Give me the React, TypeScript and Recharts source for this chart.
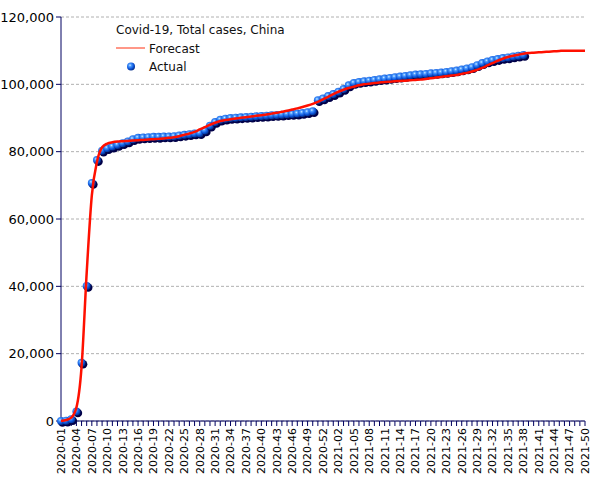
import React from "react";
import {
  CartesianGrid,
  Line,
  LineChart,
  XAxis,
  YAxis,
} from "recharts";

// ISO weeks: 2020 has 53, chart runs to 2021-50
const WEEKS: string[] = [];
for (let w = 1; w <= 53; w++) WEEKS.push(`2020-${String(w).padStart(2, "0")}`);
for (let w = 1; w <= 50; w++) WEEKS.push(`2021-${String(w).padStart(2, "0")}`);

const ACTUAL = [
  0, 100, 500, 2800, 17300, 40100, 70700, 77500, 80300, 81000,
  81500, 82000, 82500, 83000, 83700, 84100, 84200, 84300, 84400, 84400,
  84500, 84500, 84600, 84800, 85000, 85200, 85400, 85500, 86300, 87700,
  88800, 89500, 89800, 90000, 90100, 90200, 90300, 90400, 90500, 90600,
  90700, 90800, 90900, 91000, 91100, 91200, 91300, 91500, 91700, 92000,
  95300, 95800, 96500, 97100, 97800, 98600, 99700, 100400, 100700, 100900,
  101100, 101300, 101500, 101700, 101900, 102100, 102300, 102500, 102700, 102900,
  103000, 103100, 103300, 103400, 103500, 103700, 103900, 104100, 104400, 104700,
  105100, 105700, 106300, 106800, 107200, 107500, 107800, 108000, 108300, 108500,
  108700,
];

const FORECAST = [
  0, 300, 1000, 4000, 16000, 44000, 67000, 77000, 81300, 82400,
  82800, 83000, 83100, 83200, 83300, 83400, 83500, 83600, 83700, 83800,
  83900, 84100, 84300, 84600, 85000, 85400, 85900, 86600, 87300, 88000,
  88600, 89100, 89400, 89650, 89850, 90050, 90250, 90450, 90650, 90850,
  91050, 91300, 91550, 91850, 92150, 92500, 92850, 93250, 93700, 94200,
  94800, 95500, 96300, 97100, 97800, 98400, 98900, 99300, 99700, 100000,
  100200, 100400, 100550, 100700, 100800, 100900, 101000, 101100, 101200, 101300,
  101400, 101600, 101800, 102000, 102200, 102400, 102600, 102800, 103100, 103400,
  103800, 104300, 104900, 105600, 106300, 107000, 107600, 108100, 108500, 108800,
  109100, 109300, 109400, 109500, 109600, 109700, 109800, 109900, 110000, 110000,
  110000, 110000, 110000,
];

const Y_TICKS = [0, 20000, 40000, 60000, 80000, 100000, 120000];

const data = WEEKS.map((week, i) => ({
  week,
  actual: i < ACTUAL.length ? ACTUAL[i] : null,
  forecast: FORECAST[i],
}));

const FONT = "'DejaVu Sans', sans-serif";
const AXIS = "#000060";

function XTick(props: any) {
  const { x, y, payload } = props;
  const idx = WEEKS.indexOf(payload.value);
  if (idx % 3 !== 0) return <g />;
  return (
    <text
      transform={`translate(${x},${y}) rotate(-90)`}
      textAnchor="end"
      dy="0.35em"
      fontSize={11}
      fontFamily={FONT}
      fill="#000"
    >
      {payload.value}
    </text>
  );
}

function Sphere({ cx, cy }: { cx: number; cy: number }) {
  return (
    <g>
      <circle cx={cx + 1.5} cy={cy + 1.5} r={4.3} fill="#000048" />
      <circle cx={cx} cy={cy} r={4} fill="url(#sphereGrad)" />
    </g>
  );
}

function ActualDot(props: any) {
  const { cx, cy, index, payload } = props;
  if (cy == null || payload?.actual == null) return <g key={index} />;
  return (
    <g key={index}>
      <Sphere cx={cx} cy={cy} />
    </g>
  );
}

export default function App() {
  return (
    <div style={{ position: "absolute", left: 0, top: 0, width: 605, height: 480 }}>
      <LineChart
        width={605}
        height={480}
        data={data}
        margin={{ top: 17, right: 20, bottom: 0, left: 0 }}
      >
        <defs>
          <radialGradient id="sphereGrad" cx="38%" cy="35%" r="65%">
            <stop offset="0%" stopColor="#d8ecff" />
            <stop offset="25%" stopColor="#4c9cff" />
            <stop offset="70%" stopColor="#0a52d8" />
            <stop offset="100%" stopColor="#06308a" />
          </radialGradient>
        </defs>
        <CartesianGrid
          vertical={false}
          stroke="#b0b0b0"
          strokeDasharray="3 2"
        />
        <XAxis
          dataKey="week"
          scale="point"
          interval={0}
          tickSize={5}
          height={59}
          stroke={AXIS}
          tickLine={{ stroke: AXIS }}
          tick={<XTick />}
        />
        <YAxis
          width={61}
          domain={[0, 120000]}
          ticks={Y_TICKS}
          tickSize={5}
          stroke={AXIS}
          tickLine={{ stroke: AXIS }}
          tick={{ fill: "#000", fontSize: 13, fontFamily: FONT }}
          tickFormatter={(v) => Number(v).toLocaleString("en-US")}
        />
        <Line
          dataKey="actual"
          stroke="none"
          dot={<ActualDot />}
          activeDot={false}
          isAnimationActive={false}
        />
        <Line
          type="monotone"
          dataKey="forecast"
          stroke="#ff1000"
          strokeWidth={2.5}
          dot={false}
          activeDot={false}
          isAnimationActive={false}
          {...({ zIndex: 900 } as any)}
        />
      </LineChart>
      <svg
        width={605}
        height={480}
        style={{ position: "absolute", left: 0, top: 0, pointerEvents: "none" }}
      >
        <text x={116} y={34} fontSize={12} fontFamily={FONT} fill="#111">
          Covid-19, Total cases, China
        </text>
        <line x1={116} x2={145} y1={48} y2={48} stroke="#ff3010" strokeWidth={1} />
        <text x={149} y={52.5} fontSize={12} fontFamily={FONT} fill="#111">
          Forecast
        </text>
        <defs>
          <radialGradient id="sphereGradLeg" cx="38%" cy="35%" r="65%">
            <stop offset="0%" stopColor="#d8ecff" />
            <stop offset="25%" stopColor="#4c9cff" />
            <stop offset="70%" stopColor="#0a52d8" />
            <stop offset="100%" stopColor="#06308a" />
          </radialGradient>
        </defs>
        <circle cx={131} cy={66.5} r={4} fill="url(#sphereGradLeg)" />
        <text x={149} y={71} fontSize={12} fontFamily={FONT} fill="#111">
          Actual
        </text>
      </svg>
    </div>
  );
}
